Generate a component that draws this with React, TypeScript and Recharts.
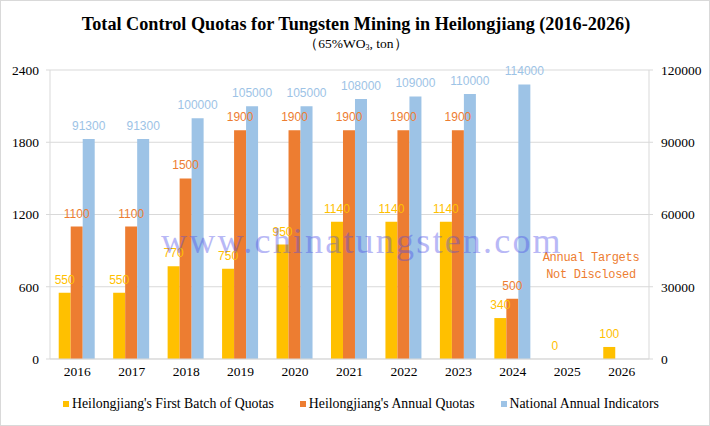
import React from 'react';
import { BarChart, Bar, XAxis, YAxis, CartesianGrid, Legend, LabelList } from 'recharts';

const years = ['2016', '2017', '2018', '2019', '2020', '2021', '2022', '2023', '2024', '2025', '2026'];
const firstBatch: (number | null)[] = [550, 550, 770, 750, 950, 1140, 1140, 1140, 340, 0, 100];
const annualQuotas: (number | null)[] = [1100, 1100, 1500, 1900, 1900, 1900, 1900, 1900, 500, null, null];
const nationalIndicators: (number | null)[] = [91300, 91300, 100000, 105000, 105000, 108000, 109000, 110000, 114000, null, null];
const leftTicks = [0, 600, 1200, 1800, 2400];
const rightTicks = [0, 30000, 60000, 90000, 120000];

const seriesNames = [
  "Heilongjiang's First Batch of Quotas",
  "Heilongjiang's Annual Quotas",
  'National Annual Indicators',
];
const colors = ['#FFC000', '#ED7D31', '#9DC3E6'];

const data = years.map((y, i) => ({
  year: y,
  first: firstBatch[i],
  annual: annualQuotas[i],
  national: nationalIndicators[i],
}));

const SERIF = '"Liberation Serif", "Times New Roman", serif';
const SANS = '"Liberation Sans", Arial, sans-serif';

const renderLegend = () => (
  <div
    style={{
      display: 'flex',
      justifyContent: 'center',
      alignItems: 'center',
      gap: 26,
      fontFamily: SERIF,
      fontSize: 13.8,
      color: '#000',
      paddingLeft: 4,
      paddingTop: 7,
    }}
  >
    {seriesNames.map((n, i) => (
      <div key={n} style={{ display: 'flex', alignItems: 'center' }}>
        <span style={{ display: 'inline-block', width: 6, height: 6, background: colors[i], marginRight: 3 }} />
        <span>{n}</span>
      </div>
    ))}
  </div>
);

const makeLabel = (color: string) => (props: any) => {
  const { x, y, width, value } = props;
  if (value === null || value === undefined || x === undefined) return null;
  return (
    <text
      x={Number(x) + Number(width) / 2}
      y={Number(y) - 9}
      textAnchor="middle"
      fill={color}
      fontFamily={SANS}
      fontSize={12}
    >
      {String(value)}
    </text>
  );
};

const zeroMin = (value: any) => (value === 0 ? 0.01 : 0);

export default function App() {
  return (
    <div
      style={{
        position: 'absolute',
        left: 0,
        top: 0,
        width: 710,
        height: 426,
        background: '#fff',
        border: '1px solid #D9D9D9',
        boxSizing: 'border-box',
        overflow: 'hidden',
      }}
    >
      <div style={{ position: 'absolute', left: 0, top: 0, width: 710, height: 426 }}>
        <BarChart
          width={710}
          height={426}
          data={data}
          margin={{ top: 69, right: 2, left: 8, bottom: 8 }}
          barCategoryGap="16%"
          barGap={0}
        >
          <CartesianGrid yAxisId="left" vertical={false} stroke="#D9D9D9" />
          <XAxis
            dataKey="year"
            tickLine={false}
            tickSize={0}
            tickMargin={7}
            axisLine={{ stroke: '#D9D9D9' }}
            height={30}
            tick={{ fill: '#000', fontFamily: SERIF, fontSize: 13.5 }}
            interval={0}
          />
          <YAxis
            yAxisId="left"
            orientation="left"
            width={41}
            domain={[0, 2400]}
            ticks={leftTicks}
            tickSize={4}
            tickMargin={7}
            axisLine={{ stroke: '#D9D9D9' }}
            tickLine={{ stroke: '#D9D9D9' }}
            tick={{ fill: '#000', fontFamily: SERIF, fontSize: 13.5 }}
            allowDataOverflow
          />
          <YAxis
            yAxisId="right"
            orientation="right"
            width={60}
            domain={[0, 120000]}
            ticks={rightTicks}
            tickSize={4}
            tickMargin={8}
            axisLine={{ stroke: '#D9D9D9' }}
            tickLine={{ stroke: '#D9D9D9' }}
            tick={{ fill: '#000', fontFamily: SERIF, fontSize: 13.5, textAnchor: 'start' }}
            allowDataOverflow
          />
          <Legend verticalAlign="bottom" height={30} content={renderLegend} />
          <Bar yAxisId="left" dataKey="first" name={seriesNames[0]} fill={colors[0]} minPointSize={zeroMin} isAnimationActive={false}>
            <LabelList dataKey="first" content={makeLabel(colors[0])} />
          </Bar>
          <Bar yAxisId="left" dataKey="annual" name={seriesNames[1]} fill={colors[1]} isAnimationActive={false}>
            <LabelList dataKey="annual" content={makeLabel(colors[1])} />
          </Bar>
          <Bar yAxisId="right" dataKey="national" name={seriesNames[2]} fill={colors[2]} isAnimationActive={false}>
            <LabelList dataKey="national" content={makeLabel(colors[2])} />
          </Bar>
        </BarChart>
      </div>
      <div
        style={{
          position: 'absolute',
          left: 0,
          top: 12,
          width: 710,
          textAlign: 'center',
          fontFamily: SERIF,
          fontWeight: 'bold',
          fontSize: 18.2,
          color: '#000',
          lineHeight: '22px',
        }}
      >
        Total Control Quotas for Tungsten Mining in Heilongjiang (2016-2026)
      </div>
      <div
        style={{
          position: 'absolute',
          left: 0,
          top: 34,
          width: 710,
          textAlign: 'center',
          fontFamily: SERIF,
          fontSize: 13.5,
          color: '#000',
          lineHeight: '18px',
        }}
      >
        （65%WO<sub style={{ fontSize: 8, verticalAlign: 'baseline', position: 'relative', top: 2 }}>3</sub>, ton）
      </div>
      <div
        style={{
          position: 'absolute',
          left: 520,
          top: 249,
          width: 140,
          textAlign: 'center',
          fontFamily: '"Liberation Mono", "Courier New", monospace',
          fontSize: 12,
          letterSpacing: -0.3,
          color: '#ED7D31',
          lineHeight: '17px',
        }}
      >
        Annual Targets
        <br />
        Not Disclosed
      </div>
      <div
        style={{
          position: 'absolute',
          left: 160,
          top: 220,
          whiteSpace: 'nowrap',
          fontFamily: SERIF,
          fontSize: 36,
          letterSpacing: 2.2,
          color: '#4848E8',
          opacity: 0.38,
          lineHeight: '40px',
          pointerEvents: 'none',
        }}
      >
        www.chinatungsten.com
      </div>
    </div>
  );
}
